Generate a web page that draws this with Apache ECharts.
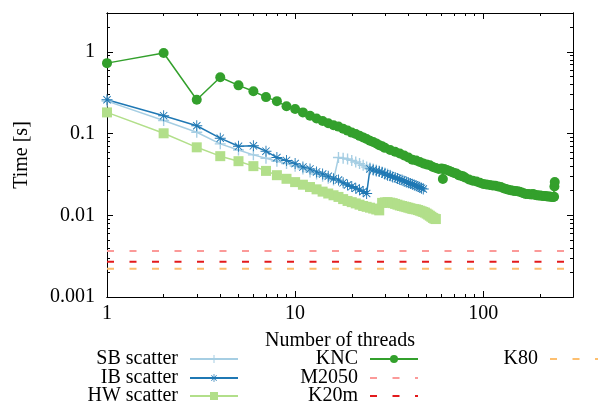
<!DOCTYPE html>
<html><head><meta charset="utf-8">
<script src="https://cdn.jsdelivr.net/npm/echarts@6/dist/echarts.min.js"></script>
<style>html,body{margin:0;padding:0;background:#fff}#c{width:599px;height:405px}</style>
</head><body><div id="c"></div>
<script>
// ---- data ----
const sbThreads = [1,2,3,4,5,6,7,8,9,10,11,12,13,14,15,16,17,18,19,20,21,22,23,24,25,26,27,28,29,30,31,32];
const sbTime = [0.25,0.145,0.104,0.075,0.063,0.055,0.05,0.046,0.043,0.04,0.037,0.034,0.032,0.030,0.0285,0.027,
  0.051,0.05,0.049,0.047,0.045,0.043,0.041,0.039,0.038,0.037,0.036,0.035,0.034,0.033,0.032,0.031];

const ibThreads = [1,2,3,4,5,6,7,8,9,10,11,12,13,14,15,16,17,18,19,20,21,22,23,24,25,26,27,28,29,30,31,32,33,34,35,36,37,38,39,40,41,42,43,44,45,46,47,48];
const ibTime = [0.26,0.166,0.125,0.088,0.07,0.071,0.061,0.051,0.047,0.043,0.039,0.037,0.034,0.032,0.030,0.028,0.027,0.025,0.0235,0.0225,0.0215,0.0205,0.0196,0.0185,
  0.037,0.036,0.035,0.0345,0.0335,0.032,0.031,0.0305,0.0295,0.029,0.0282,0.0275,0.027,0.0262,0.0255,0.025,0.0245,0.024,0.0235,0.023,0.0225,0.022,0.0215,0.021];

const hwThreads = [1,2,3,4,5,6,7,8,9,10,11,12,13,14,15,16,17,18,19,20,21,22,23,24,25,26,27,28,29,30,31,32,33,34,35,36,37,38,39,40,41,42,43,44,45,46,47,48,49,50,51,52,53,54,55,56];
const hwTime = [0.182,0.101,0.068,0.053,0.046,0.04,0.035,0.031,0.028,0.0255,0.0237,0.0222,0.0208,0.0195,0.0185,0.0176,0.0168,0.0158,0.015,0.0145,0.014,0.0135,0.013,0.0127,0.0124,0.0121,0.0118,0.0115,
  0.0142,0.0144,0.0145,0.0143,0.0141,0.0138,0.0135,0.0132,0.013,0.0128,0.0126,0.0124,0.0122,0.012,0.0119,0.0118,0.0116,0.0114,0.0112,0.011,0.0108,0.0105,0.0102,0.0099,0.0096,0.0093,0.0091,0.009];

const kncThreads = [1,2,3,4,5,6,7,8,9,10,11,12,13,14,15,16,17,18,19,20,21,22,23,24,25,26,27,28,29,30,
  32,34,36,38,40,42,44,46,48,50,52,54,56,58,60,61,62,64,66,68,70,72,74,76,78,80,
  84,88,92,96,100,104,108,112,116,120,124,128,132,136,140,144,148,152,156,160,164,168,172,176,180,184,188,192,196,200,204,208,212,216,220,224,228,232,236,238,239,240];
const kncTime = [0.73,0.97,0.26,0.49,0.39,0.33,0.28,0.25,0.216,0.2,0.182,0.166,0.153,0.143,0.134,0.127,0.122,0.115,0.109,0.103,0.099,0.094,0.09,0.086,0.082,0.079,0.076,0.072,0.07,0.067,
  0.063,0.06,0.057,0.054,0.051,0.048,0.047,0.045,0.043,0.042,0.041,0.039,0.038,0.037,0.0375,0.0278,0.037,0.036,0.035,0.034,0.033,0.0325,0.031,0.0305,0.030,0.029,
  0.0275,0.0265,0.026,0.025,0.0242,0.0238,0.0235,0.0232,0.023,0.0225,0.0222,0.0215,0.021,0.0206,0.0203,0.02,0.0198,0.0197,0.0194,0.019,0.0186,0.0183,0.0182,0.0181,0.018,0.0182,0.0178,0.0176,0.0175,0.0175,0.0174,0.0173,0.0172,0.0171,0.017,0.017,0.0169,0.0168,0.0168,0.0169,0.0225,0.0255];

const gpuThreads = [1, 270];
const m2050Time = [0.00366, 0.00366];
const k20mTime = [0.00271, 0.00271];
const k80Time = [0.00222, 0.00222];

const xMajorTicks = [1, 10, 100];
const xMinorTicks = [2,3,4,5,6,7,8,9,20,30,40,50,60,70,80,90,200,300];
const yMajorTicks = [0.001, 0.01, 0.1, 1];
const yMinorTicks = [0.002,0.003,0.004,0.005,0.006,0.007,0.008,0.009,0.02,0.03,0.04,0.05,0.06,0.07,0.08,0.09,0.2,0.3,0.4,0.5,0.6,0.7,0.8,0.9,2,3];

const seriesNames = ['SB scatter','IB scatter','HW scatter','KNC','M2050','K20m','K80'];
const seriesColors = ['#a6cee3','#1f78b4','#b2df8a','#33a02c','#fb9a99','#e31a1c','#fdbf6f'];

// ---- build ----
const FONT = 'Liberation Serif';
const FS = 20;
const zip = (a, b) => a.map((v, i) => [v, b[i]]);
const plusPath = 'path://M10.5,0 L13.5,0 L13.5,24 L10.5,24 Z M0,10.5 L24,10.5 L24,13.5 L0,13.5 Z';
const starPath = 'path://M11,0 L13,0 L13,24 L11,24 Z M0,11 L24,11 L24,13 L0,13 Z M4.7,3.3 L20.7,19.3 L19.3,20.7 L3.3,4.7 Z M19.3,3.3 L20.7,4.7 L4.7,20.7 L3.3,19.3 Z';

function xAxis(pos, ticks, len, labels) {
  return {
    type: 'log', logBase: 10, min: 1, max: 300, position: pos,
    axisLine: { show: true, onZero: false, lineStyle: { color: '#000', width: 1 } },
    axisTick: { show: true, inside: true, length: len, customValues: ticks, lineStyle: { color: '#000', width: 1 } },
    axisLabel: labels ? { show: true, customValues: xMajorTicks, margin: 7, fontFamily: FONT, fontSize: FS, color: '#000' } : { show: false },
    splitLine: { show: false }
  };
}
function yAxis(pos, ticks, len, labels) {
  return {
    type: 'log', logBase: 10, min: 0.001, max: 3, position: pos,
    axisLine: { show: true, onZero: false, lineStyle: { color: '#000', width: 1 } },
    axisTick: { show: true, inside: true, length: len, customValues: ticks, lineStyle: { color: '#000', width: 1 } },
    axisLabel: labels ? { show: true, customValues: yMajorTicks, margin: 12, fontFamily: FONT, fontSize: FS, color: '#000' } : { show: false },
    splitLine: { show: false }
  };
}
const xAxes = [xAxis('bottom', xMajorTicks, 6, true), xAxis('bottom', xMinorTicks, 3, false), xAxis('top', xMajorTicks, 6, false), xAxis('top', xMinorTicks, 3, false)];
xAxes[0].name = 'Number of threads';
xAxes[0].nameLocation = 'middle';
xAxes[0].nameGap = 34;
xAxes[0].nameTextStyle = { fontFamily: FONT, fontSize: FS, color: '#000' };
const yAxes = [yAxis('left', yMajorTicks, 6, true), yAxis('left', yMinorTicks, 3, false), yAxis('right', yMajorTicks, 6, false), yAxis('right', yMinorTicks, 3, false)];
yAxes[0].name = 'Time [s]';
yAxes[0].nameLocation = 'middle';
yAxes[0].nameGap = 75;
yAxes[0].nameRotate = 90;
yAxes[0].nameTextStyle = { fontFamily: FONT, fontSize: FS, color: '#000' };

function lineSeries(i, data, symbol, size, lw, dashed) {
  return {
    name: seriesNames[i], type: 'line', data: data,
    symbol: symbol, symbolSize: size, showSymbol: symbol !== 'none',
    lineStyle: { color: seriesColors[i], width: lw, type: dashed ? [7, 15.5] : 'solid' },
    itemStyle: { color: seriesColors[i] },
    xAxisIndex: 0, yAxisIndex: 0, animation: false, silent: true
  };
}
const series = [
  lineSeries(0, zip(sbThreads, sbTime), plusPath, 11, 1.5, false),
  lineSeries(1, zip(ibThreads, ibTime), starPath, 11, 1.5, false),
  lineSeries(2, zip(hwThreads, hwTime), 'rect', 10, 1.5, false),
  lineSeries(3, zip(kncThreads, kncTime), 'circle', 10, 1.5, false),
  lineSeries(4, zip(gpuThreads, m2050Time), 'none', 0, 2, true),
  lineSeries(5, zip(gpuThreads, k20mTime), 'none', 0, 2, true),
  lineSeries(6, zip(gpuThreads, k80Time), 'none', 0, 2, true)
];

const colRight = [360, 180, 0];
const rowTop = [349, 368, 386];
const legendPlace = [[0,0],[0,1],[0,2],[1,0],[1,1],[1,2],[2,0]];
const legends = seriesNames.map((n, i) => ({
  data: [i >= 4 ? { name: n, itemStyle: { opacity: 0 } } : n],
  orient: 'vertical', align: 'right', padding: 0,
  right: colRight[legendPlace[i][0]], top: rowTop[legendPlace[i][1]],
  itemWidth: 48, itemHeight: 10, selectedMode: false,
  textStyle: { fontFamily: FONT, fontSize: FS, color: '#000', padding: [0, 7, 0, 0] }
}));

const chart = echarts.init(document.getElementById('c'), null, { renderer: 'canvas' });
chart.setOption({
  animation: false,
  backgroundColor: '#fff',
  grid: { left: 107, right: 26, top: 13, bottom: 108, show: false },
  xAxis: xAxes, yAxis: yAxes,
  legend: legends,
  series: series
});
</script></body></html>
